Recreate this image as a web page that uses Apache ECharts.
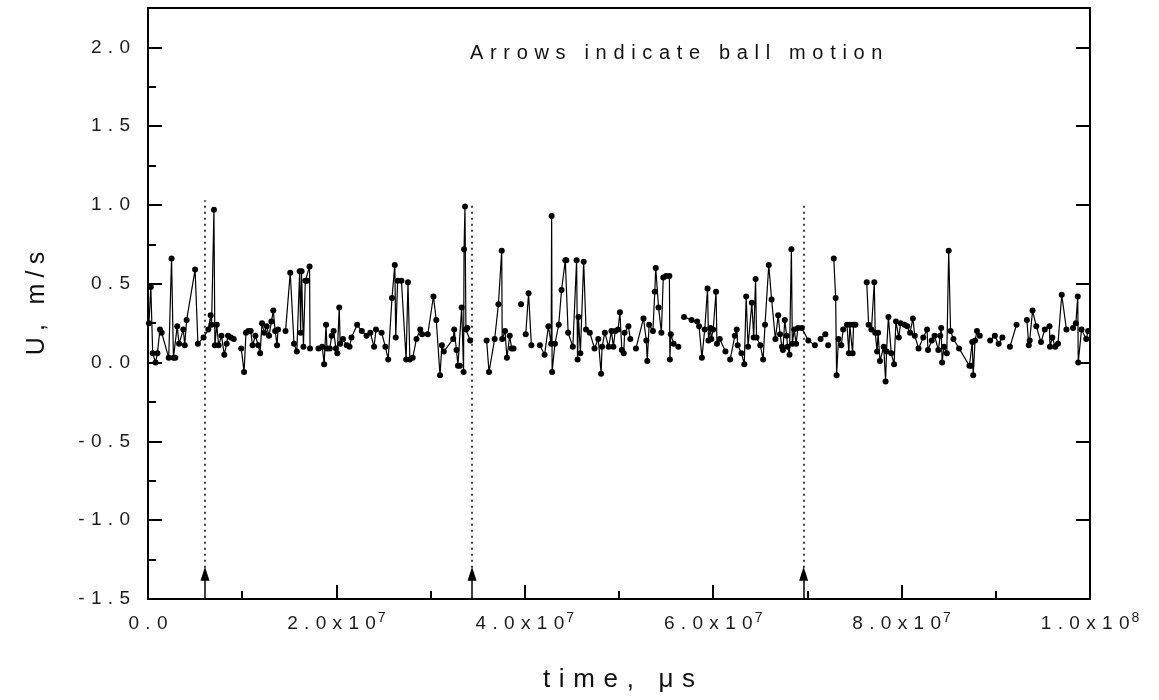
<!DOCTYPE html>
<html>
<head>
<meta charset="utf-8">
<script src="https://cdn.jsdelivr.net/npm/echarts@6/dist/echarts.min.js"></script>
<style>
html,body{margin:0;padding:0;background:#fff;}
#chart{width:1159px;height:700px;}
</style>
</head>
<body>
<div id="chart"></div>
<script>
// time in units of 1e6 microseconds; null = gap in the record
var timeMicro6 = [
0.1,0.3,0.5,0.8,1.0,1.27,1.45,2.2,2.5,2.7,2.9,3.1,3.3,3.75,3.9,4.1,5.0,5.3,5.9,6.4,6.65,6.75,7.0,7.1,7.3,7.5,7.8,8.1,8.35,8.5,8.8,9.1,9.5,
9.9,10.2,10.4,10.65,10.9,11.1,11.4,11.7,11.9,12.1,12.35,12.6,12.85,13.1,13.3,13.5,13.7,13.8,14.2,
14.6,15.1,15.5,15.8,16.1,16.2,16.3,16.5,16.7,16.9,17.15,17.2,17.6,
18.1,18.5,18.7,18.9,19.0,19.3,19.5,19.7,19.95,20.1,20.3,20.4,20.7,21.1,21.4,21.6,22.2,22.7,23.2,23.6,24.0,24.2,24.8,25.2,25.5,25.9,26.2,26.3,26.5,26.9,27.4,27.6,27.8,28.1,28.5,28.9,29.1,29.7,30.3,30.6,31.0,31.2,31.4,32.4,32.5,32.75,32.9,33.1,33.3,33.5,33.55,33.65,33.75,33.9,34.2,35.0,
35.95,36.2,36.8,37.2,37.55,37.6,37.9,38.1,38.4,38.6,38.8,39.2,
39.6,39.9,
40.1,40.4,40.7,41.1,
41.6,42.1,42.5,42.8,42.85,42.9,43.2,43.6,43.9,44.3,44.4,44.6,45.1,45.5,45.6,45.7,45.9,46.25,46.5,46.9,47.4,47.8,48.1,48.2,48.5,48.9,49.2,49.4,49.6,49.9,50.1,50.3,50.5,50.6,51.0,51.2,51.5,
51.8,52.6,52.9,53.0,53.2,53.6,53.8,53.9,54.2,54.5,54.7,55.0,55.35,55.4,55.5,55.8,56.3,56.6,
56.9,57.7,58.3,58.5,58.8,59.1,59.4,59.5,59.7,59.8,60.0,60.3,60.4,60.7,61.3,61.5,
61.8,62.3,62.5,62.6,63.0,63.3,63.5,63.7,64.1,64.3,64.5,64.6,65.0,65.3,65.5,65.9,66.2,66.6,66.9,67.1,67.3,67.4,67.6,67.8,67.9,68.1,68.3,68.4,68.6,68.8,69.0,69.4,70.1,70.8,71.1,
71.4,71.9,72.0,72.2,72.5,
72.8,73.0,73.1,73.3,73.6,73.8,74.2,74.4,74.5,74.8,74.9,75.1,75.6,
76.3,76.5,76.8,77.1,77.2,77.4,77.5,77.7,78.1,78.3,78.4,78.6,78.9,79.2,79.4,79.7,79.9,80.3,80.6,80.9,81.2,81.4,81.8,82.3,82.7,82.8,83.2,83.5,83.9,84.1,84.2,84.3,84.5,84.8,85.0,85.2,85.5,86.1,87.2,87.4,87.5,87.6,87.8,88.0,88.3,88.8,
89.4,89.9,90.3,90.7,91.1,
91.5,92.2,92.7,
93.3,93.5,93.6,93.9,94.3,94.8,95.2,95.7,95.75,96.0,96.3,96.6,97.0,97.5,97.8,
98.2,98.5,98.7,98.75,99.1,99.6,99.8
];
var velocity = [
0.25,0.48,0.06,0.00,0.06,0.21,0.19,0.03,0.66,0.03,0.03,0.23,0.12,0.21,0.11,0.27,0.59,0.12,0.16,0.21,0.30,0.24,0.97,0.11,0.24,0.11,0.17,0.05,0.12,0.17,0.16,0.15,null,
0.09,-0.06,0.19,0.20,0.20,0.11,0.17,0.11,0.06,0.25,0.19,0.23,0.17,0.26,0.33,0.20,0.11,0.21,null,
0.20,0.57,0.12,0.07,0.58,0.19,0.58,0.10,0.52,0.52,0.61,0.09,null,
0.09,0.10,-0.01,0.24,0.09,0.09,0.17,0.20,0.09,0.06,0.35,0.12,0.15,0.11,0.10,0.16,0.24,0.20,0.17,0.19,0.10,0.21,0.19,0.10,0.02,0.41,0.62,0.16,0.52,0.52,0.02,0.51,0.02,0.03,0.15,0.21,0.18,0.18,0.42,0.27,-0.08,0.11,0.07,0.15,0.21,0.08,-0.02,-0.02,0.35,-0.06,0.72,0.99,0.21,0.22,0.14,null,
0.14,-0.06,0.15,0.37,0.71,0.15,0.20,0.03,0.17,0.09,0.09,null,
0.37,null,
0.18,0.44,0.11,null,
0.11,0.05,0.23,0.12,0.93,-0.06,0.12,0.24,0.46,0.65,0.65,0.19,0.10,0.65,0.02,0.29,0.06,0.64,0.21,0.19,0.09,0.15,-0.07,0.10,0.19,0.10,0.20,0.10,0.20,0.21,0.32,0.08,0.06,0.19,0.23,0.15,null,
0.09,0.28,0.14,0.01,0.24,0.20,0.45,0.60,0.35,0.19,0.54,0.55,0.55,0.02,0.18,0.12,0.10,null,
0.29,0.27,0.26,0.23,0.03,0.21,0.47,0.14,0.22,0.15,0.21,0.45,0.12,0.15,0.07,null,
0.02,0.17,0.21,0.11,0.06,-0.01,0.42,0.10,0.38,0.16,0.53,0.16,0.11,0.02,0.24,0.62,0.40,0.15,0.30,0.18,0.10,0.08,0.27,0.17,0.10,0.05,0.72,0.12,0.21,0.12,0.22,0.22,0.14,0.11,null,
0.15,0.18,null,0.11,null,
0.66,0.41,-0.08,0.15,0.11,0.21,0.24,0.06,0.24,0.06,0.24,0.24,null,
0.51,0.24,0.21,0.51,0.19,0.07,0.19,0.01,0.10,-0.12,0.07,0.29,0.06,-0.01,0.26,0.16,0.25,0.24,0.23,0.19,0.28,0.17,0.09,0.16,0.21,0.08,0.14,0.17,0.08,0.17,0.22,0.00,0.10,0.06,0.71,0.20,0.15,0.09,-0.02,-0.02,0.13,-0.08,0.14,0.20,0.17,null,
0.14,0.17,0.12,0.16,null,
0.10,0.24,null,
0.27,0.11,0.14,0.33,0.23,0.13,0.21,0.23,0.10,0.16,0.10,0.12,0.43,0.21,null,
0.22,0.25,0.42,0.00,0.21,0.15,0.20
];
// ball-motion arrows: time position and height where the dotted line ends
var arrowTimes = [6.05, 34.4, 69.6];
var arrowTops = [1.03, 1.02, 1.00];
var arrowHeadY = -1.34;

var xTickValues = [0, 20, 40, 60, 80, 100];
var xTickMantissa = ['0.0', '2.0', '4.0', '6.0', '8.0', '1.0'];
var xTickExponent = ['', '7', '7', '7', '7', '8'];
var yTickValues = [-1.5, -1.0, -0.5, 0.0, 0.5, 1.0, 1.5, 2.0];
var yTickLabels = ['-1.5', '-1.0', '-0.5', '0.0', '0.5', '1.0', '1.5', '2.0'];

var titleX = 'time, \u03bcs';
var titleY = 'U, m/s';
var note = 'Arrows indicate ball motion';

function sp(s, gap) { return s.split('').join(gap); }

var seriesData = timeMicro6.map(function (t, i) { return [t, velocity[i]]; });

var arrowLines = [], dotLines = [];
arrowTimes.forEach(function (t, i) {
  arrowLines.push([{ coord: [t, -1.5] }, { coord: [t, arrowHeadY] }]);
  dotLines.push([{ coord: [t, arrowHeadY] }, { coord: [t, arrowTops[i]] }]);
});

var FONT = '"Liberation Sans", Arial, sans-serif';
var GAP = '\u2004';

var chart = echarts.init(document.getElementById('chart'), null, { renderer: 'canvas' });
var frameLine = { show: true, onZero: false, lineStyle: { color: '#000', width: 2 } };
var option = {
  backgroundColor: '#fff',
  animation: false,
  grid: { left: 148, right: 69, top: 8, bottom: 101, containLabel: false },
  xAxis: [
    {
      type: 'value', min: 0, max: 100, interval: 20, position: 'bottom',
      axisLine: frameLine,
      axisTick: { show: true, inside: true, length: 14, lineStyle: { color: '#000', width: 2 } },
      splitLine: { show: false },
      axisLabel: {
        show: true, margin: 12,
        formatter: function (v) {
          var i = xTickValues.indexOf(Math.round(v));
          if (i < 0) return '';
          if (!xTickExponent[i]) return '{m|' + sp(xTickMantissa[i], GAP) + '}';
          return '{m|' + sp(xTickMantissa[i] + 'x10', GAP) + '}{e|' + xTickExponent[i] + '}';
        },
        rich: {
          m: { fontFamily: FONT, fontSize: 19, color: '#1a1a1a', verticalAlign: 'bottom', lineHeight: 22 },
          e: { fontFamily: FONT, fontSize: 14, color: '#1a1a1a', verticalAlign: 'top', padding: [0, 0, 12, 2], lineHeight: 22 }
        }
      },
      name: sp(titleX, '\u2004'), nameLocation: 'middle', nameGap: 68,
      nameTextStyle: { fontFamily: FONT, fontSize: 26, color: '#111' }
    },
    {
      type: 'value', min: 0, max: 100, interval: 10, position: 'bottom',
      axisLine: { show: false, onZero: false },
      axisTick: { show: true, inside: true, length: 8, lineStyle: { color: '#000', width: 2 } },
      axisLabel: { show: false }, splitLine: { show: false }
    },
    {
      type: 'value', min: 0, max: 100, position: 'top',
      axisLine: frameLine, axisTick: { show: false }, axisLabel: { show: false }, splitLine: { show: false }
    }
  ],
  yAxis: [
    {
      type: 'value', min: -1.5, max: 2.25, interval: 0.5, position: 'left',
      axisLine: frameLine,
      axisTick: { show: true, inside: true, length: 14, lineStyle: { color: '#000', width: 2 } },
      splitLine: { show: false },
      axisLabel: {
        show: true, margin: 18, fontFamily: FONT, fontSize: 19, color: '#1a1a1a',
        formatter: function (v) {
          for (var i = 0; i < yTickValues.length; i++) {
            if (Math.abs(yTickValues[i] - v) < 1e-6) return sp(yTickLabels[i], GAP);
          }
          return '';
        }
      },
      name: sp(titleY, '\u2005'), nameLocation: 'middle', nameGap: 98, nameRotate: 90,
      nameTextStyle: { fontFamily: FONT, fontSize: 25, color: '#111' }
    },
    {
      type: 'value', min: -1.5, max: 2.25, interval: 0.25, position: 'left',
      axisLine: { show: false, onZero: false },
      axisTick: { show: true, inside: true, length: 8, lineStyle: { color: '#000', width: 2 } },
      axisLabel: { show: false }, splitLine: { show: false }
    },
    {
      type: 'value', min: -1.5, max: 2.25, interval: 0.5, position: 'right',
      axisLine: frameLine,
      axisTick: { show: true, inside: true, length: 14, lineStyle: { color: '#000', width: 2 } },
      axisLabel: { show: false }, splitLine: { show: false }
    }
  ],
  graphic: [
    {
      type: 'text', left: 470, top: 43, silent: true,
      style: { text: sp(note, '\u2004'), fontFamily: FONT, fontSize: 20, fill: '#111' }
    }
  ],
  series: [
    {
      type: 'line', xAxisIndex: 0, yAxisIndex: 0,
      data: seriesData, connectNulls: false,
      showSymbol: true, showAllSymbol: true, symbol: 'circle', symbolSize: 6,
      itemStyle: { color: '#000' },
      lineStyle: { color: '#000', width: 1.2 },
      z: 3
    },
    {
      type: 'line', xAxisIndex: 0, yAxisIndex: 0, data: [], silent: true,
      markLine: {
        silent: true, animation: false,
        symbol: ['none', 'none'],
        label: { show: false },
        lineStyle: { color: '#000', type: [2, 4], width: 1.5 },
        data: dotLines
      }
    },
    {
      type: 'line', xAxisIndex: 0, yAxisIndex: 0, data: [], silent: true,
      markLine: {
        silent: true, animation: false,
        symbol: ['none', 'triangle'], symbolSize: [9, 14],
        label: { show: false },
        lineStyle: { color: '#000', type: 'solid', width: 1.5 },
        itemStyle: { color: '#000' },
        data: arrowLines
      }
    }
  ]
};
chart.setOption(option);
</script>
</body>
</html>
